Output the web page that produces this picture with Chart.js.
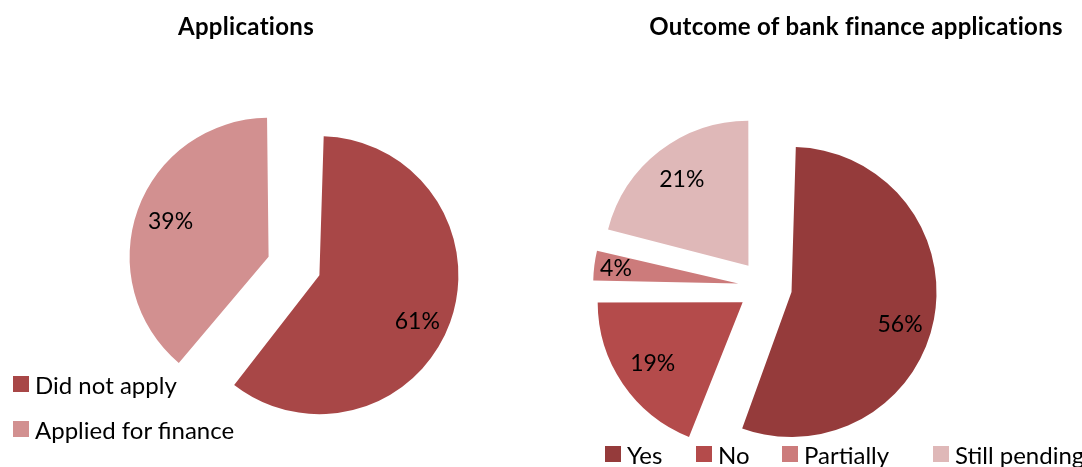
<!DOCTYPE html>
<html>
<head>
<meta charset="utf-8">
<script src="https://cdn.jsdelivr.net/npm/chart.js@4"></script>
<style>
  body { margin: 0; background: #fff; font-family: Lato, "DejaVu Sans", sans-serif; }
  #page { position: relative; width: 1082px; height: 467px; overflow: hidden; }
  .box { position: absolute; top: 0; height: 467px; }
  .title { position: absolute; top: 11px; font-weight: bold; font-size: 24px; letter-spacing: 0.3px; color: #000; white-space: nowrap; transform: translateX(-50%); }
  .legend { position: absolute; font-size: 24px; color: #000; white-space: nowrap; }
  .legend .item { position: absolute; display: flex; align-items: center; height: 28px; }
  .legend .sw { width: 16px; height: 16px; margin-right: 6px; }
</style>
</head>
<body>
<div id="page">
  <div class="box" style="left:0;width:541px"><canvas id="appsChart"></canvas></div>
  <div class="box" style="left:541px;width:541px"><canvas id="outcomeChart"></canvas></div>
  <div class="title" style="left:246px">Applications</div>
  <div class="title" style="left:856px">Outcome of bank finance applications</div>
  <div class="legend" id="appsLegend"></div>
  <div class="legend" id="outcomeLegend"></div>
</div>
<script>
// data
const appsLabels = ['Did not apply', 'Applied for finance'];
const appsValues = [61, 39];
const appsColors = ['#A84747', '#D29090'];

const outcomeLabels = ['Yes', 'No', 'Partially', 'Still pending'];
const outcomeValues = [56, 19, 4, 21];
const outcomeColors = ['#953B3B', '#B44B4B', '#CC7B7B', '#DFB8B8'];

// Chart.js grows an offset slice's radius by offset/4 * (1 - sin(angle));
// undo that so every exploded slice keeps the same radius
const evenRadius = {
    id: 'evenRadius',
    afterDatasetsUpdate(chart) {
        const meta = chart.getDatasetMeta(0);
        const base = meta.controller.outerRadius;
        const off = (chart.options.elements.arc.offset || 0) / 4;
        meta.data.forEach(arc => {
            const fix = 1 - Math.sin(Math.min(Math.PI, arc.circumference));
            arc.outerRadius = base - off * fix;
        });
    }
};

// percentage labels inside the (exploded) slices
const pctLabels = {
    id: 'pctLabels',
    afterDatasetsDraw(chart) {
        const ctx = chart.ctx;
        const meta = chart.getDatasetMeta(0);
        const base = meta.controller.outerRadius;
        const data = chart.data.datasets[0].data;
        const total = data.reduce((a, b) => a + b, 0);
        const off = (chart.options.elements.arc.offset || 0) / 4;
        ctx.save();
        ctx.font = '23px Lato';
        ctx.fillStyle = '#000';
        ctx.textAlign = 'center';
        ctx.textBaseline = 'middle';
        meta.data.forEach((arc, i) => {
            let mid = (arc.startAngle + arc.endAngle) / 2;
            const share = data[i] / total;
            // big slices: Excel sits the label a little lower
            if (share > 0.5) mid += 0.08;
            const k = share < 0.06 ? 0.85 : (share > 0.5 ? 0.78 : 0.75);
            const d = off + base * k;
            ctx.fillText(Math.round(share * 100) + '%', arc.x + Math.cos(mid) * d, arc.y + Math.sin(mid) * d);
        });
        ctx.restore();
    }
};

function makeLegend(el, labels, colors, spots) {
    labels.forEach((lab, i) => {
        const item = document.createElement('div');
        item.className = 'item';
        item.style.left = spots[i][0] + 'px';
        item.style.top = spots[i][1] + 'px';
        item.innerHTML = '<span class="sw" style="background:' + colors[i] + '"></span><span>' + lab + '</span>';
        el.appendChild(item);
    });
}

function pieOptions(radius, padding) {
    return {
        responsive: true,
        maintainAspectRatio: false,
        animation: false,
        radius: radius,
        layout: { padding: padding },
        elements: { arc: { offset: 108, borderWidth: 0 } },
        plugins: { legend: { display: false }, tooltip: { enabled: false } }
    };
}

new Chart(document.getElementById('appsChart'), {
    type: 'pie',
    data: {
        labels: appsLabels,
        datasets: [{ data: appsValues, backgroundColor: appsColors }]
    },
    options: pieOptions(139, { left: 47, right: 0, top: 65, bottom: 0 }),
    plugins: [evenRadius, pctLabels]
});

new Chart(document.getElementById('outcomeChart'), {
    type: 'pie',
    data: {
        labels: outcomeLabels,
        datasets: [{ data: outcomeValues, backgroundColor: outcomeColors }]
    },
    options: pieOptions(145, { left: 0, right: 93, top: 107, bottom: 0 }),
    plugins: [evenRadius, pctLabels]
});

makeLegend(document.getElementById('appsLegend'), appsLabels, appsColors, [[13, 370], [13, 415]]);
makeLegend(document.getElementById('outcomeLegend'), outcomeLabels, outcomeColors, [[605, 440], [696, 440], [782, 440], [933, 440]]);
</script>
</body>
</html>
